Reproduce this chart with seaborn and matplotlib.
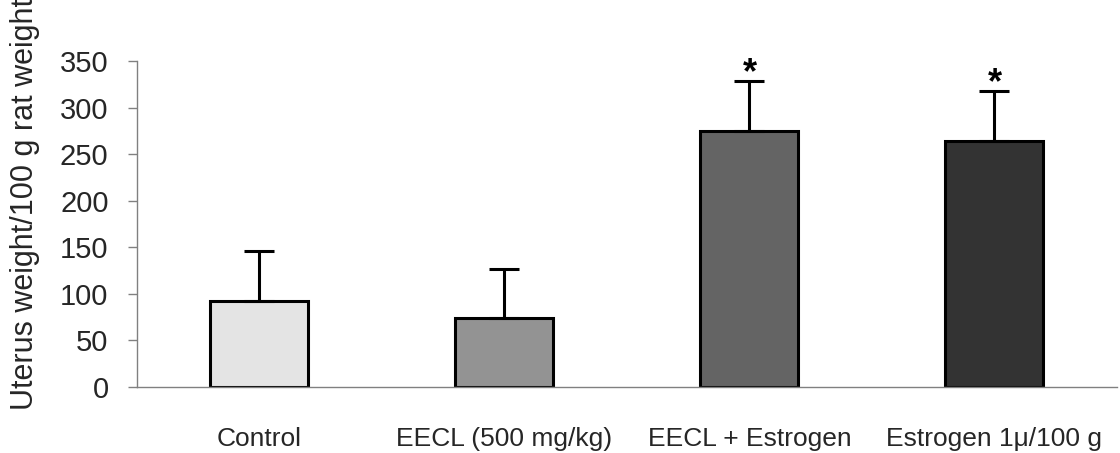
import numpy as np
import matplotlib
matplotlib.use("Agg")
import matplotlib.pyplot as plt
import seaborn as sns

# values
groups = ["Control", "EECL (500 mg/kg)", "EECL + Estrogen", "Estrogen 1\u03bc/100 g"]
means = [92, 74, 275, 264]
sds = [54, 53, 54, 54]
signif = ["", "", "*", "*"]
colors = ["#e4e4e4", "#939393", "#646464", "#333333"]

sns.set_style("white")
plt.rcParams["font.family"] = ["Liberation Sans", "DejaVu Sans"]

fig = plt.figure(figsize=(11.2, 4.53), dpi=100)
ax = fig.add_axes([0.1223, 0.1457, 0.875, 0.7196])

sns.barplot(x=groups, y=means, hue=groups, palette=colors, edgecolor="black",
            linewidth=2.2, width=0.4, legend=False, ax=ax, zorder=2)

pos = np.arange(len(groups))
ax.errorbar(pos, means, yerr=[np.zeros(len(sds)), sds], fmt="none", ecolor="black",
            elinewidth=2.2, capsize=11, capthick=2.2, zorder=3)

for x, m, s, lab in zip(pos, means, sds, signif):
    if lab:
        ax.text(x, m + s - 3, lab, ha="center", va="baseline", fontsize=26,
                fontweight="bold", color="black")

ax.set_ylim(0, 350)
ax.set_xlim(-0.5, len(groups) - 0.5)
ax.set_yticks(range(0, 351, 50))
ax.set_xticks(pos, groups)
ax.set_xticks(np.arange(-0.5, len(groups)), minor=True)

ax.tick_params(axis="x", which="major", length=0, pad=29, labelsize=19)
ax.tick_params(axis="x", which="minor", length=4, width=1, color="#808080", direction="out")
ax.tick_params(axis="y", length=6.5, width=1, color="#808080", direction="out",
               pad=14, labelsize=21, left=True)

sns.despine(ax=ax)
for side in ["left", "bottom"]:
    ax.spines[side].set_color("#808080")
    ax.spines[side].set_linewidth(1)

ax.set_xlabel("")
ax.set_ylabel("Uterus weight/100 g rat weight", fontsize=22)
ax.yaxis.set_label_coords(-0.099, 0.56)

fig.savefig("out.png", dpi=100)
